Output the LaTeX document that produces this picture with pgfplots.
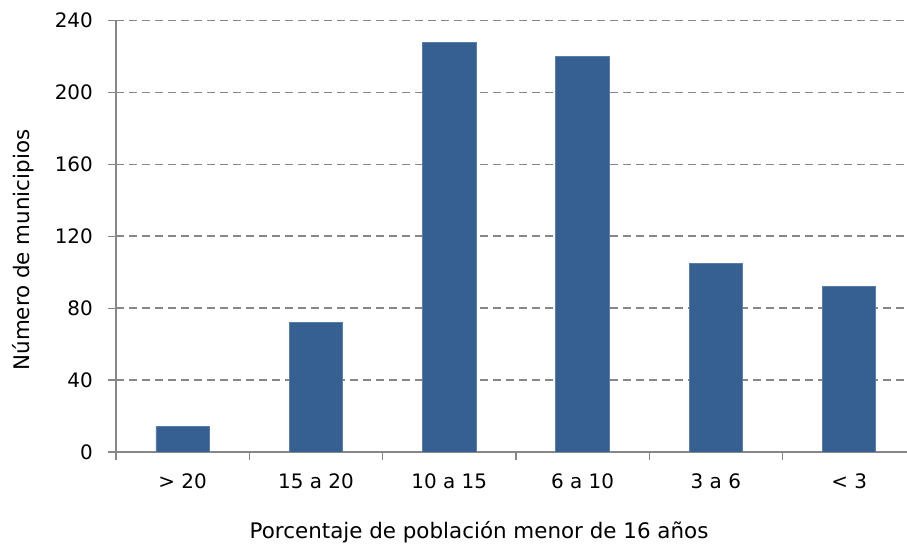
\documentclass[border=0pt]{standalone}
\usepackage{pgfplots}
\pgfplotsset{compat=1.18}
\usepackage{fontspec}
\setmainfont{DejaVu Sans}
\definecolor{barblue}{HTML}{376092}
\definecolor{baredge}{HTML}{5A7EAA}
\definecolor{gridgray}{HTML}{878787}
\begin{document}
\begin{tikzpicture}
\useasboundingbox (0,0) rectangle (907bp,544bp);
\begin{axis}[
  at={(116bp,92bp)}, anchor=south west,
  width=791bp, height=431.5bp, scale only axis,
  xmin=-0.5, xmax=5.434, ymin=0, ymax=240,
  axis x line*=bottom, axis y line*=left,
  axis line style={gridgray, line width=1.2bp},
  every axis line/.append style={-},
  ytick={0,40,...,240},
  xtick={0,1,2,3,4,5},
  xticklabels={{> 20},{15 a 20},{10 a 15},{6 a 10},{3 a 6},{< 3}},
  minor xtick={-0.5,0.5,1.5,2.5,3.5,4.5},
  tick align=outside,
  major tick length=8bp, minor tick length=8bp,
  y tick style={gridgray, line width=1.2bp},
  x tick style={draw=none},
  minor x tick style={draw=gridgray, line width=1.2bp},
  ymajorgrids,
  major grid style={gridgray, line width=1.6bp, dash pattern=on 8bp off 5bp},
  /pgf/number format/assume math mode=true,
  ticklabel style={font=\fontsize{20}{23}\selectfont, text=black},
  yticklabel style={inner sep=0pt, xshift=-15bp},
  xticklabel style={inner sep=0pt, yshift=-14bp},
  xlabel={Porcentaje de población menor de 16 años},
  ylabel={Número de municipios},
  label style={font=\fontsize{21.5}{25}\selectfont},
  xlabel style={at={(axis description cs:0.459,0)}, anchor=base, yshift=-86bp},
  ylabel style={at={(axis description cs:-0.1176,0.468)}, anchor=center, inner sep=0pt},
  ybar, bar width=0.4,
]
\addplot[fill=barblue, draw=baredge, line width=0.8bp] coordinates {
  (0,14) (1,72) (2,228) (3,220) (4,105) (5,92)
};
\end{axis}
\end{tikzpicture}
\end{document}
